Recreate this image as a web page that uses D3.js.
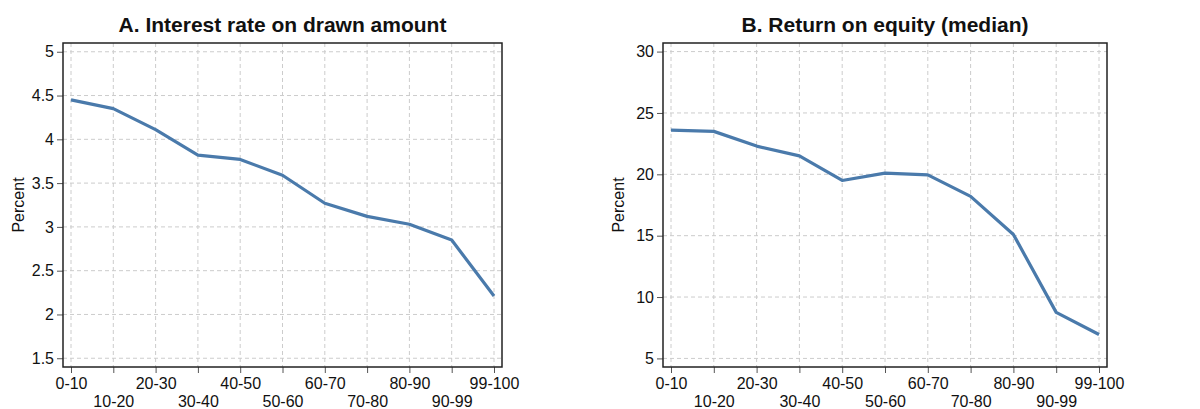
<!DOCTYPE html>
<html>
<head>
<meta charset="utf-8">
<script src="https://cdn.jsdelivr.net/npm/d3@7"></script>
<style>
  body { margin: 0; background: #fff; }
  svg { display: block; font-family: "Liberation Sans", Arial, sans-serif; }
</style>
</head>
<body>
<svg id="chart" width="1200" height="409"></svg>
<script>
var categories = ['0-10', '10-20', '20-30', '30-40', '40-50', '50-60', '60-70', '70-80', '80-90', '90-99', '99-100'];
var interestRate = [4.45, 4.35, 4.11, 3.82, 3.77, 3.59, 3.27, 3.12, 3.03, 2.85, 2.21];
var returnOnEquity = [23.6, 23.5, 22.3, 21.5, 19.5, 20.1, 19.95, 18.2, 15.1, 8.75, 6.95];
var ticksA = [1.5, 2, 2.5, 3, 3.5, 4, 4.5, 5];
var ticksB = [5, 10, 15, 20, 25, 30];

function drawPanel(svg, config) {
    var x0 = config.left, x1 = config.right;
    var y0 = 43, y1 = 367;
    var g = svg.append('g');

    var x = d3.scalePoint().domain(categories).range([x0 + 8, x1 - 8]);
    var y = d3.scaleLinear().domain(config.domain).range([y1, y0]);

    // grid
    g.append('g').selectAll('line.vg')
        .data(categories)
        .enter().append('line')
        .attr('x1', function(d) { return x(d); })
        .attr('x2', function(d) { return x(d); })
        .attr('y1', y0).attr('y2', y1)
        .attr('stroke', '#cccccc')
        .attr('stroke-width', 1)
        .attr('stroke-dasharray', '4,3');

    g.append('g').selectAll('line.hg')
        .data(config.ticks)
        .enter().append('line')
        .attr('x1', x0).attr('x2', x1)
        .attr('y1', function(d) { return y(d); })
        .attr('y2', function(d) { return y(d); })
        .attr('stroke', '#cccccc')
        .attr('stroke-width', 1)
        .attr('stroke-dasharray', '4,3');

    // axes
    var yAxis = g.append('g')
        .attr('transform', 'translate(' + x0 + ',0)')
        .call(d3.axisLeft(y).tickValues(config.ticks).tickSize(6).tickPadding(3).tickFormat(function(d) { return d; }));
    yAxis.select('.domain').remove();
    yAxis.selectAll('.tick line').attr('stroke', '#555');
    yAxis.selectAll('.tick text').attr('font-size', '16px').attr('fill', '#111')
        .attr('font-family', '"Liberation Sans", Arial, sans-serif');

    var xAxis = g.append('g')
        .attr('transform', 'translate(0,' + y1 + ')')
        .call(d3.axisBottom(x).tickSize(6).tickPadding(5));
    xAxis.select('.domain').remove();
    xAxis.selectAll('.tick line').attr('stroke', '#555');
    xAxis.selectAll('.tick text')
        .attr('font-size', '16px').attr('fill', '#111')
        .attr('font-family', '"Liberation Sans", Arial, sans-serif')
        .attr('dy', function(d, i) { return i % 2 === 0 ? '0.71em' : '1.83em'; });

    // frame
    g.append('rect')
        .attr('x', x0).attr('y', y0)
        .attr('width', x1 - x0).attr('height', y1 - y0)
        .attr('fill', 'none')
        .attr('stroke', '#222')
        .attr('stroke-width', 1.5);

    // line
    var line = d3.line()
        .x(function(d, i) { return x(categories[i]); })
        .y(function(d) { return y(d); });
    g.append('path')
        .datum(config.values)
        .attr('d', line)
        .attr('fill', 'none')
        .attr('stroke', '#4a7aab')
        .attr('stroke-width', 3.2)
        .attr('stroke-linejoin', 'round');

    // title
    svg.append('text')
        .attr('x', (x0 + x1) / 2)
        .attr('y', 32)
        .attr('text-anchor', 'middle')
        .attr('font-size', '21px')
        .attr('font-weight', 'bold')
        .attr('fill', '#111')
        .text(config.title);

    // y label
    svg.append('text')
        .attr('transform', 'translate(' + (config.left - 39) + ',' + ((y0 + y1) / 2) + ') rotate(-90)')
        .attr('text-anchor', 'middle')
        .attr('font-size', '16px')
        .attr('fill', '#111')
        .text('Percent');
}

var svg = d3.select('#chart');
drawPanel(svg, { left: 63, right: 502, domain: [1.4, 5.1], ticks: ticksA, values: interestRate, title: 'A. Interest rate on drawn amount' });
drawPanel(svg, { left: 663, right: 1107, domain: [4.3, 30.7], ticks: ticksB, values: returnOnEquity, title: 'B. Return on equity (median)' });
</script>
</body>
</html>
